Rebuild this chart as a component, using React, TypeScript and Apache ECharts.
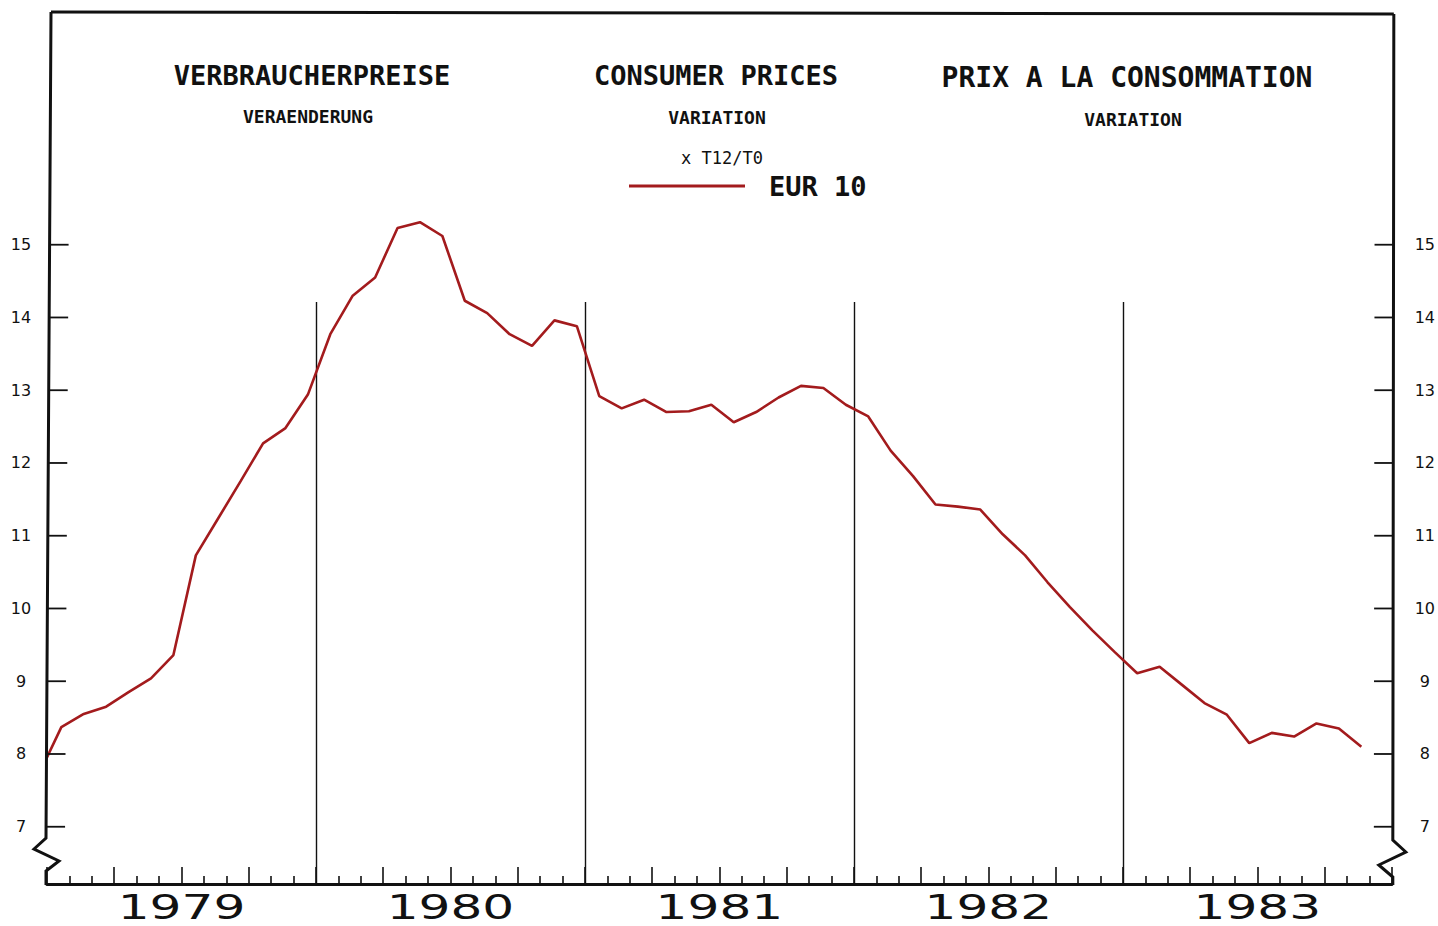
import React, { useEffect, useRef } from "react";
import * as echarts from "echarts";

// ---- data ----
const YEARS = ["1979", "1980", "1981", "1982", "1983"];
// Monthly consumer price change, EUR 10, % T12/T0
const EUR10 = [
  7.72, 8.37, 8.55, 8.65, 8.85, 9.04, 9.36, 10.73, 11.24, 11.75, 12.27, 12.48,
  12.94, 13.77, 14.3, 14.55, 15.23, 15.31, 15.12, 14.23, 14.06, 13.77, 13.61, 13.96,
  13.88, 12.92, 12.75, 12.87, 12.7, 12.71, 12.8, 12.56, 12.7, 12.9, 13.06, 13.03,
  12.8, 12.64, 12.17, 11.82, 11.43, 11.4, 11.36, 11.02, 10.73, 10.36, 10.02, 9.7,
  9.4, 9.11, 9.2, 8.95, 8.7, 8.54, 8.15, 8.29, 8.24, 8.42, 8.35, 8.1,
];
const Y_TICKS = [7, 8, 9, 10, 11, 12, 13, 14, 15];
const YEAR_BOUNDARY_MONTHS = [12, 24, 36, 48];

// ---- layout constants ----
const X_MIN = 0;
const X_MAX = 60;
const Y_MIN = 6.213;
const Y_MAX = 18.185;
const POINT_SHIFT = -0.36; // plotted position of each monthly point inside the month grid
const LINE_RED = "#a31b1d";
const INK = "#111111";
const MONO = '"DejaVu Sans Mono", monospace';
const SANS = '"DejaVu Sans", sans-serif';

const seriesData = EUR10.map((v, i) => [i + POINT_SHIFT, v]);

function txt(text: string, x: number, y: number, size: number, bold: boolean) {
  return {
    type: "text",
    x,
    y,
    silent: true,
    style: {
      text,
      fill: INK,
      fontFamily: MONO,
      fontSize: size,
      fontWeight: bold ? "bold" : "normal",
      align: "center",
      verticalAlign: "middle",
      textAlign: "center",
      textVerticalAlign: "middle",
    },
  };
}

export default function App() {
  const ref = useRef<HTMLDivElement>(null);

  useEffect(() => {
    if (!ref.current) return;
    const chart = echarts.init(ref.current, undefined, { renderer: "svg" });
    const tickLine = { color: INK, width: 1.6 };

    const option: any = {
      animation: false,
      backgroundColor: "#ffffff",
      grid: { left: 47, right: 45, top: 13, bottom: 42, containLabel: false },
      legend: {
        show: true,
        left: 629,
        top: 172,
        padding: 0,
        icon: "rect",
        itemWidth: 116,
        itemHeight: 3,
        selectedMode: false,
        data: ["EUR 10"],
        textStyle: {
          fontFamily: MONO,
          fontWeight: "bold",
          fontSize: 27,
          color: INK,
          lineHeight: 28,
          padding: [0, 0, 0, 19],
        },
      },
      graphic: [
        txt("VERBRAUCHERPREISE", 312, 75, 27, true),
        txt("CONSUMER PRICES", 716, 75, 27, true),
        txt("PRIX A LA CONSOMMATION", 1127, 77, 28, true),
        txt("VERAENDERUNG", 308, 116, 18, true),
        txt("VARIATION", 717, 117, 18, true),
        txt("VARIATION", 1133, 119, 18, true),
        txt("x T12/T0", 722, 158, 17, false),
      ],
      xAxis: [
        {
          type: "value",
          min: X_MIN,
          max: X_MAX,
          interval: 3,
          position: "bottom",
          axisLine: { show: true, onZero: false, lineStyle: { color: INK, width: 3 } },
          axisTick: { show: true, inside: true, length: 17, lineStyle: tickLine },
          minorTick: { show: true, splitNumber: 3, length: 8, lineStyle: tickLine },
          axisLabel: { show: false },
          splitLine: { show: false },
          minorSplitLine: { show: false },
        },
        {
          type: "value",
          min: X_MIN,
          max: X_MAX,
          position: "bottom",
          axisLine: { show: false, onZero: false },
          axisTick: {
            show: true,
            inside: true,
            length: 582,
            customValues: YEAR_BOUNDARY_MONTHS,
            lineStyle: { color: INK, width: 1.4 },
          },
          axisLabel: { show: false },
          splitLine: { show: false },
        },
        {
          type: "category",
          data: YEARS,
          boundaryGap: true,
          position: "bottom",
          axisLine: { show: false },
          axisTick: { show: false },
          axisLabel: { show: false },
          splitLine: { show: false },
        },
      ],
      yAxis: [
        {
          type: "value",
          min: Y_MIN,
          max: Y_MAX,
          position: "left",
          axisLine: { show: false },
          axisTick: { show: false },
          axisLabel: {
            show: true,
            customValues: Y_TICKS,
            margin: 26,
            align: "center",
            fontFamily: SANS,
            fontSize: 16,
            color: INK,
          },
          splitLine: { show: false },
        },
        {
          type: "value",
          min: Y_MIN,
          max: Y_MAX,
          position: "right",
          axisLine: { show: false },
          axisTick: { show: false },
          axisLabel: {
            show: true,
            customValues: Y_TICKS,
            margin: 33,
            align: "center",
            fontFamily: SANS,
            fontSize: 16,
            color: INK,
          },
          splitLine: { show: false },
        },
      ],
      series: [
        {
          type: "line",
          name: "EUR 10",
          xAxisIndex: 0,
          yAxisIndex: 0,
          data: seriesData,
          symbol: "none",
          showSymbol: false,
          clip: true,
          lineStyle: { color: LINE_RED, width: 2.6 },
          itemStyle: { color: LINE_RED },
          z: 4,
        },
        {
          type: "custom",
          name: "frame",
          xAxisIndex: 0,
          yAxisIndex: 0,
          silent: true,
          clip: false,
          z: 5,
          data: [[X_MIN, Y_MIN]],
          renderItem: (_params: any, api: any) => {
            const tl = api.coord([X_MIN, Y_MAX]);
            const bl = api.coord([X_MIN, Y_MIN]);
            const tr = api.coord([X_MAX, Y_MAX]);
            const br = api.coord([X_MAX, Y_MIN]);
            const st = { stroke: INK, lineWidth: 3, fill: null, lineJoin: "miter" };
            const tk = { stroke: INK, lineWidth: 1.8 };
            const lTop = [tl[0] + 4, tl[1] - 1];
            const lBot = [bl[0] - 1, bl[1] - 46];
            const rTop = [tr[0] + 2, tr[1] + 1];
            const rBot = [br[0] + 1, br[1] - 44];
            const axAt = (a: number[], b: number[], y: number) =>
              a[0] + ((b[0] - a[0]) * (y - a[1])) / (b[1] - a[1]);
            const ticks: any[] = [];
            Y_TICKS.forEach((v) => {
              const y = api.coord([X_MIN, v])[1];
              const xl = axAt(lTop, lBot, y);
              const xr = axAt(rTop, rBot, y);
              ticks.push({ type: "line", shape: { x1: xl, y1: y, x2: xl + 19, y2: y }, style: tk });
              ticks.push({ type: "line", shape: { x1: xr - 19, y1: y, x2: xr, y2: y }, style: tk });
            });
            return {
              type: "group",
              children: [
                {
                  type: "polyline",
                  shape: {
                    points: [
                      lTop,
                      lBot,
                      [bl[0] - 13, bl[1] - 35],
                      [bl[0] + 12, bl[1] - 23],
                      [bl[0] - 1, bl[1] - 13],
                      [bl[0] - 1, bl[1] + 1],
                    ],
                  },
                  style: st,
                },
                {
                  type: "polyline",
                  shape: { points: [lTop, rTop] },
                  style: st,
                },
                {
                  type: "polyline",
                  shape: {
                    points: [
                      rTop,
                      rBot,
                      [br[0] + 14, br[1] - 32],
                      [br[0] - 13, br[1] - 19],
                      [br[0] + 1, br[1] - 7],
                      [br[0] + 1, br[1] + 1],
                    ],
                  },
                  style: st,
                },
                ...ticks,
              ],
            };
          },
        },
        {
          type: "custom",
          name: "years",
          xAxisIndex: 2,
          yAxisIndex: 0,
          silent: true,
          clip: false,
          data: YEARS.map((y) => [y, Y_MIN]),
          renderItem: (params: any, api: any) => {
            const p = api.coord([api.value(0), Y_MIN]);
            return {
              type: "text",
              x: p[0],
              y: p[1] + 24,
              scaleX: 1.52,
              style: {
                text: YEARS[params.dataIndex],
                fill: INK,
                fontFamily: SANS,
                fontSize: 33,
                align: "center",
                verticalAlign: "middle",
                textAlign: "center",
                textVerticalAlign: "middle",
              },
            };
          },
        },
      ],
    };

    chart.setOption(option);
    return () => chart.dispose();
  }, []);

  return (
    <div
      ref={ref}
      style={{ position: "fixed", left: 0, top: 0, width: 1438, height: 926, background: "#fff" }}
    />
  );
}
